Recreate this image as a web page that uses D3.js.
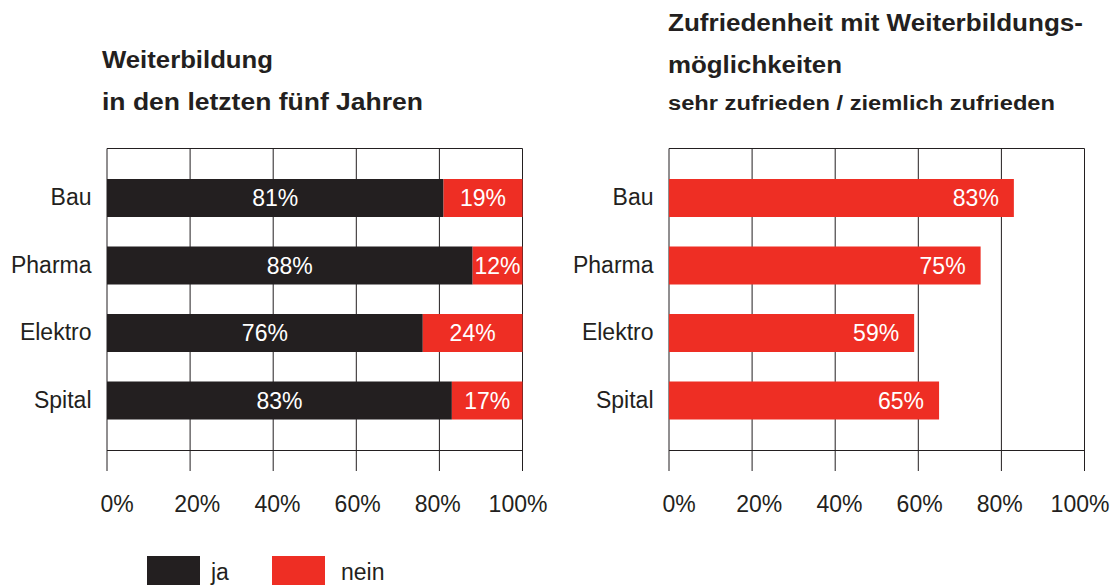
<!DOCTYPE html>
<html>
<head>
<meta charset="utf-8">
<script src="https://cdn.jsdelivr.net/npm/d3@7"></script>
<style>
  html, body { margin: 0; padding: 0; background: #fff; }
  svg { display: block; }
  text { font-family: "Liberation Sans", Arial, Helvetica, sans-serif; fill: #231f20; }
</style>
</head>
<body>
<svg id="chart" width="1115" height="585"></svg>
<script>
// ---- data ----
const categories = ["Bau", "Pharma", "Elektro", "Spital"];
const jaValues = [81, 88, 76, 83];
const neinValues = [19, 12, 24, 17];
const satisfiedValues = [83, 75, 59, 65];
const tickValues = [0, 20, 40, 60, 80, 100];
const leftTitle = ["Weiterbildung", "in den letzten fünf Jahren"];
const rightTitle = ["Zufriedenheit mit Weiterbildungs-", "möglichkeiten", "sehr zufrieden / ziemlich zufrieden"];
const legendLabels = ["ja", "nein"];

const BLACK = "#231f20", RED = "#ee2e24", LINE = "#231f20";

const svg = d3.select("#chart");

const y = d3.scaleBand().domain(categories).range([164.25, 434.25])
  .paddingInner(0.437).paddingOuter(0.2185);

function panel(x0, x1) {
  const g = svg.append("g");
  const x = d3.scaleLinear().domain([0, 100]).range([x0, x1]);
  const lx = d3.scaleLinear().domain([0, 100]).range([x0 + 9.5, x0 + 410.5]);
  // grid lines
  g.selectAll("line.v").data(tickValues).join("line")
    .attr("x1", d => x(d)).attr("x2", d => x(d))
    .attr("y1", 148.5).attr("y2", 471)
    .attr("stroke", LINE).attr("stroke-width", 1);
  g.append("line").attr("x1", x(0)).attr("x2", x(100)).attr("y1", 148.5).attr("y2", 148.5)
    .attr("stroke", LINE).attr("stroke-width", 1);
  g.append("line").attr("x1", x(0)).attr("x2", x(100)).attr("y1", 450.5).attr("y2", 450.5)
    .attr("stroke", LINE).attr("stroke-width", 1);
  // tick labels
  const ax = g.append("g").attr("transform", "translate(0,494)")
    .call(d3.axisBottom(lx).tickValues(tickValues).tickSize(0).tickPadding(0).tickFormat(d => d + "%"));
  ax.select(".domain").remove();
  ax.selectAll("text").attr("font-size", 23).attr("fill", BLACK).attr("dy", "0.78em")
    .style("font-family", '"Liberation Sans", Arial, sans-serif');
  // category labels
  const ay = g.append("g").attr("transform", `translate(${x0},0)`)
    .call(d3.axisLeft(y).tickSize(0).tickPadding(15.5));
  ay.select(".domain").remove();
  ay.selectAll("text").attr("font-size", 23).attr("fill", BLACK)
    .style("font-family", '"Liberation Sans", Arial, sans-serif');
  return { g, x };
}

// ---- left panel ----
const L = panel(107, 522.5);
const leftData = categories.map((c, i) => ({ c, ja: jaValues[i], nein: neinValues[i] }));
L.g.selectAll("rect.ja").data(leftData).join("rect")
  .attr("x", L.x(0)).attr("y", d => y(d.c))
  .attr("width", d => L.x(d.ja) - L.x(0)).attr("height", y.bandwidth())
  .attr("fill", BLACK);
L.g.selectAll("rect.nein").data(leftData).join("rect")
  .attr("x", d => L.x(d.ja)).attr("y", d => y(d.c))
  .attr("width", d => L.x(d.ja + d.nein) - L.x(d.ja)).attr("height", y.bandwidth())
  .attr("fill", RED);
L.g.selectAll("text.ja").data(leftData).join("text")
  .attr("x", d => L.x(d.ja / 2)).attr("y", d => y(d.c) + y.bandwidth() / 2 + 8)
  .attr("text-anchor", "middle").attr("font-size", 23).style("fill", "#fff")
  .text(d => d.ja + "%");
L.g.selectAll("text.nein").data(leftData).join("text")
  .attr("x", d => L.x(d.ja + d.nein / 2)).attr("y", d => y(d.c) + y.bandwidth() / 2 + 8)
  .attr("text-anchor", "middle").attr("font-size", 23).style("fill", "#fff")
  .text(d => d.nein + "%");

// ---- right panel ----
const R = panel(669, 1084.5);
const rightData = categories.map((c, i) => ({ c, v: satisfiedValues[i] }));
R.g.selectAll("rect.sat").data(rightData).join("rect")
  .attr("x", R.x(0)).attr("y", d => y(d.c))
  .attr("width", d => R.x(d.v) - R.x(0)).attr("height", y.bandwidth())
  .attr("fill", RED);
R.g.selectAll("text.sat").data(rightData).join("text")
  .attr("x", d => R.x(d.v) - 15).attr("y", d => y(d.c) + y.bandwidth() / 2 + 8)
  .attr("text-anchor", "end").attr("font-size", 23).style("fill", "#fff")
  .text(d => d.v + "%");

// ---- titles ----
const titleSpecs = [
  { t: leftTitle[0], x: 102, y: 67.5, size: 23, w: 171 },
  { t: leftTitle[1], x: 102, y: 110, size: 23, w: 321 },
  { t: rightTitle[0], x: 668, y: 31, size: 23, w: 415 },
  { t: rightTitle[1], x: 668, y: 73.3, size: 23, w: 174 },
  { t: rightTitle[2], x: 668, y: 110, size: 19.5, w: 387 }
];
svg.selectAll("text.title").data(titleSpecs).join("text")
  .attr("class", "title")
  .attr("x", d => d.x).attr("y", d => d.y)
  .attr("font-size", d => d.size).attr("font-weight", "bold")
  .attr("textLength", d => d.w).attr("lengthAdjust", "spacingAndGlyphs")
  .text(d => d.t);

// ---- legend ----
const legendX = d3.scaleOrdinal().domain(legendLabels).range([147, 272]);
const legendColor = d3.scaleOrdinal().domain(legendLabels).range([BLACK, RED]);
svg.selectAll("rect.leg").data(legendLabels).join("rect")
  .attr("x", d => legendX(d)).attr("y", 556).attr("width", 53).attr("height", 40)
  .attr("fill", d => legendColor(d));
svg.selectAll("text.leg").data(legendLabels).join("text")
  .attr("x", d => legendX(d) + (d === "ja" ? 64 : 69)).attr("y", 580)
  .attr("font-size", 23).text(d => d);
</script>
</body>
</html>
